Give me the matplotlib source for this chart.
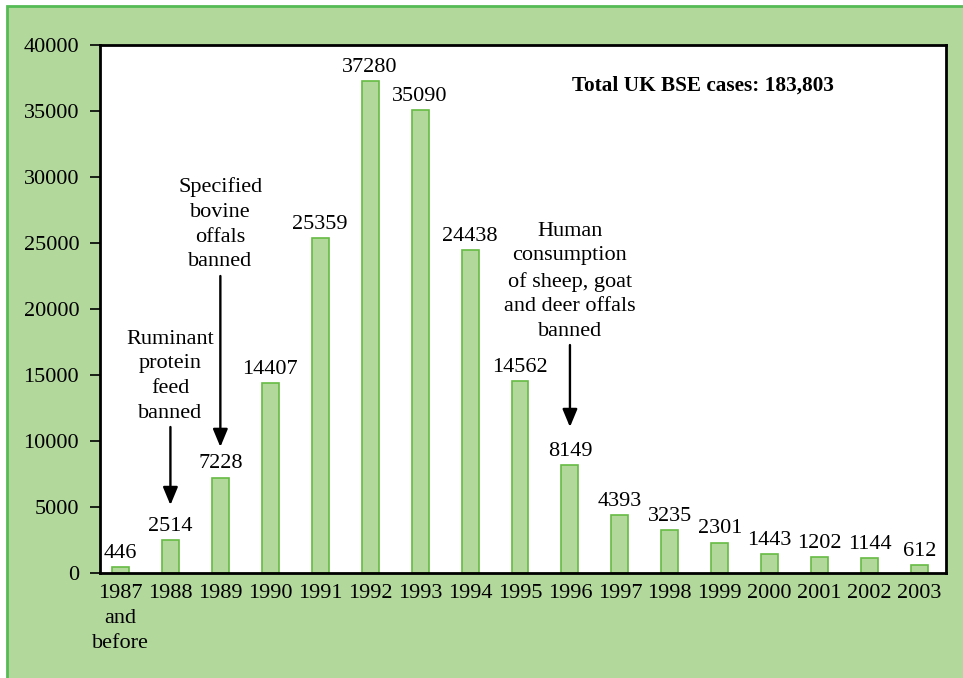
import matplotlib
matplotlib.use("Agg")
import matplotlib.pyplot as plt
from matplotlib.patches import Rectangle

plt.rcParams['font.family'] = ['Liberation Serif', 'DejaVu Serif']

# Annual confirmed BSE cases in the UK
years = ["1987\nand\nbefore", "1988", "1989", "1990", "1991", "1992", "1993",
         "1994", "1995", "1996", "1997", "1998", "1999", "2000", "2001",
         "2002", "2003"]
cases = [446, 2514, 7228, 14407, 25359, 37280, 35090, 24438, 14562, 8149,
         4393, 3235, 2301, 1443, 1202, 1144, 612]

# Policy events: (bar index, text, arrow tail, arrow head, text bottom)
events = [
    (1, "Ruminant\nprotein\nfeed\nbanned", 11060, 5150, 11350),
    (2, "Specified\nbovine\noffals\nbanned", 22500, 9550, 22850),
    (9, "Human\nconsumption\nof sheep, goat\nand deer offals\nbanned", 17270, 11060, 17550),
]

total_text = "Total UK BSE cases: 183,803"

bg = "#b3d89c"
bar_edge = "#66bb44"
border = "#55bb55"
fs = 16
ls = 1.42

fig = plt.figure(figsize=(9.63, 6.78), dpi=100)
fig.patch.set_facecolor("white")
fig.patches.append(Rectangle((7 / 963, -0.05), 1.1, 1 - 6 / 678 + 0.05,
                             transform=fig.transFigure, facecolor=bg,
                             edgecolor=border, linewidth=2, zorder=-10))

ax = fig.add_axes([100 / 963, 105 / 678, 846 / 963, 528 / 678])
ax.set_zorder(5)
ax.set_facecolor("white")

x = list(range(len(years)))
bars = ax.bar(x, cases, width=0.34, color=bg, edgecolor=bar_edge, linewidth=1.2)
for xi, v in zip(x, cases):
    ax.annotate(str(v), (xi, v), xytext=(0, 3), textcoords="offset points",
                ha="center", va="bottom", fontsize=fs)

ax.set_xlim(-0.41, len(years) - 1 + 0.53)
ax.set_ylim(0, 40000)
ax.set_yticks(range(0, 40001, 5000))
ax.set_xticks(x)
ax.set_xticklabels(years, fontsize=fs, linespacing=ls)
ax.tick_params(axis="x", length=0, pad=8)
ax.tick_params(axis="y", length=7, width=1.2, pad=8, labelsize=fs)
for s in ax.spines.values():
    s.set_linewidth(2)

for idx, label, tail, head, tbottom in events:
    ax.annotate("", xy=(idx, head), xytext=(idx, tail),
                arrowprops=dict(arrowstyle="-|>,head_length=0.6,head_width=0.25",
                                color="black", lw=1.7,
                                mutation_scale=18, shrinkA=0, shrinkB=0))
    ax.text(idx, tbottom, label, ha="center", va="bottom", fontsize=fs,
            linespacing=ls)

ax.text(0.713, 0.924, total_text, transform=ax.transAxes, ha="center",
        va="center", fontsize=15.3, fontweight="bold")

fig.savefig("out.png", dpi=100, facecolor=fig.get_facecolor())
